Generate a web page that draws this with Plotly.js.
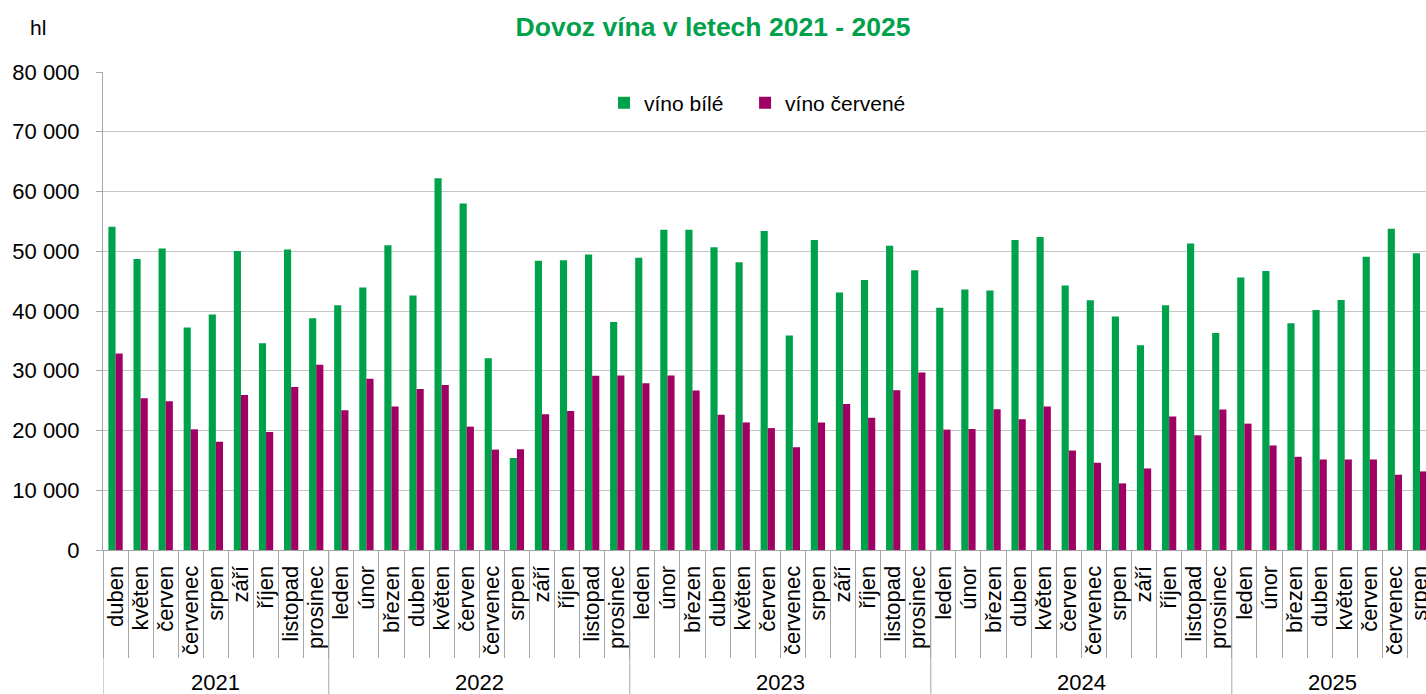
<!DOCTYPE html>
<html>
<head>
<meta charset="utf-8">
<script src="https://cdn.plot.ly/plotly-3.0.1.min.js"></script>
<style>
html,body{margin:0;padding:0;overflow:hidden;background:#fff;}
#chart{width:1426px;height:694px;}
</style>
</head>
<body>
<div id="chart"></div>
<script>
// Category labels (months) from duben 2021 to srpen 2025
const months = [
  'duben','květen','červen','červenec','srpen','září','říjen','listopad','prosinec',
  'leden','únor','březen','duben','květen','červen','červenec','srpen','září','říjen','listopad','prosinec',
  'leden','únor','březen','duben','květen','červen','červenec','srpen','září','říjen','listopad','prosinec',
  'leden','únor','březen','duben','květen','červen','červenec','srpen','září','říjen','listopad','prosinec',
  'leden','únor','březen','duben','květen','červen','červenec','srpen'
];
const yearLabels = ['2021','2022','2023','2024','2025'];
const yearCounts = [9, 12, 12, 12, 8];

// víno bílé (hl)
const whiteWine = [
  54100, 48700, 50450, 37250, 39400, 50050, 34600, 50300, 38800,
  40950, 43950, 51000, 42600, 62200, 58000, 32100, 15400, 48400, 48500, 49450, 38150,
  48900, 53600, 53600, 50650, 48150, 53400, 35900, 51900, 43100, 45200, 50900, 46800,
  40550, 43600, 43450, 51900, 52400, 44250, 41800, 39100, 34250, 40950, 51300, 36300,
  45600, 46700, 37950, 40150, 41850, 49100, 53750, 49650
];
// víno červené (hl)
const redWine = [
  32900, 25400, 24900, 20200, 18100, 25950, 19750, 27300, 31000,
  23400, 28650, 24000, 26950, 27600, 20650, 16800, 16850, 22700, 23250, 29150, 29200,
  27900, 29200, 26700, 22650, 21350, 20400, 17200, 21350, 24450, 22150, 26750, 29700,
  20150, 20250, 23550, 21900, 24000, 16650, 14600, 11150, 13650, 22350, 19200, 23500,
  21150, 17500, 15600, 15150, 15150, 15150, 12600, 13150
];

const idx = months.map((m, i) => i);
const FONT = 'Liberation Sans, Arial, sans-serif';
const GREEN = '#00A14B';
const PURPLE = '#A00064';
const GRID = '#C6C6C6';
const AXIS = '#A6A6A6';

const traces = [
  {type: 'bar', name: 'víno bílé', x: idx, y: whiteWine, marker: {color: GREEN}, hoverinfo: 'y', legend: 'legend'},
  {type: 'bar', name: 'víno červené', x: idx, y: redWine, marker: {color: PURPLE}, hoverinfo: 'y', legend: 'legend2'}
];

// year dividers and labels
const shapes = [];
const annotations = [];
let start = 0;
yearLabels.forEach((yl, k) => {
  const n = yearCounts[k];
  shapes.push({type: 'line', xref: 'x', yref: 'paper', x0: start - 0.5, x1: start - 0.5, y0: 0, y1: -0.32,
    line: {color: AXIS, width: 1}});
  annotations.push({xref: 'x', yref: 'paper', x: start + (n - 1) / 2, y: -0.278, yanchor: 'middle',
    text: yl, showarrow: false, font: {family: FONT, size: 22, color: '#000'}});
  start += n;
});
annotations.push({xref: 'paper', yref: 'paper', x: -0.049, y: 1.093, xanchor: 'center', yanchor: 'middle',
  text: 'hl', showarrow: false, font: {family: FONT, size: 21, color: '#000'}});

const legendBase = {orientation: 'h', y: 0.935, xanchor: 'left', yanchor: 'middle',
  font: {family: FONT, size: 21, color: '#000'}, bgcolor: 'rgba(0,0,0,0)'};

const layout = {
  width: 1426, height: 694,
  margin: {l: 103, r: 0, t: 72, b: 144, autoexpand: false},
  paper_bgcolor: '#fff', plot_bgcolor: '#fff',
  separators: ', ',
  font: {family: FONT, size: 22, color: '#000'},
  title: {text: 'Dovoz vína v letech 2021 - 2025', font: {family: FONT, size: 26.5, color: GREEN, weight: 'bold'},
    xref: 'container', x: 0.5, xanchor: 'center', yref: 'container', y: 0.962, yanchor: 'middle'},
  barmode: 'group', bargap: 0.43, bargroupgap: 0,
  showlegend: true,
  legend: Object.assign({}, legendBase, {x: 0.3787}),
  legend2: Object.assign({}, legendBase, {x: 0.4853}),
  xaxis: {
    type: 'linear', range: [-0.5, 52.24], fixedrange: true,
    tickmode: 'array', tickvals: idx, ticktext: months, tickangle: -90,
    ticks: '', showgrid: false, zeroline: false,
    showline: true, linecolor: AXIS, linewidth: 1,
    tickfont: {family: FONT, size: 22, color: '#000'},
    ticklabelstandoff: 6, ticklabeloverflow: 'allow',
    minor: {tickmode: 'linear', tick0: -0.5, dtick: 1, ticks: 'outside', ticklen: 107, tickcolor: AXIS, tickwidth: 1, showgrid: false}
  },
  yaxis: {
    range: [0, 80000], dtick: 10000, tick0: 0, fixedrange: true, tickformat: ',d',
    showgrid: true, gridcolor: GRID, gridwidth: 1, zeroline: false,
    showline: true, linecolor: AXIS, linewidth: 1,
    ticks: 'outside', ticklen: 6, tickcolor: AXIS,
    tickfont: {family: FONT, size: 22, color: '#000'},
    ticklabelstandoff: 12
  },
  shapes: shapes,
  annotations: annotations
};

Plotly.newPlot('chart', traces, layout, {displayModeBar: false, staticPlot: true});
</script>
</body>
</html>
